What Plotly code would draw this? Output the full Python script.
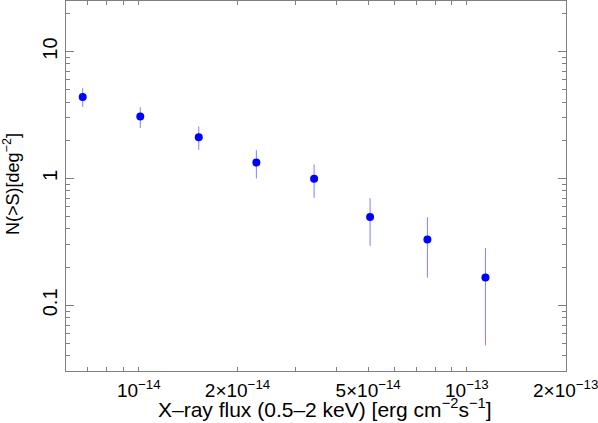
import plotly.graph_objects as go

# flux bins (erg cm^-2 s^-1) and cumulative counts N(>S) (deg^-2)
flux = [6.75e-15, 1.011e-14, 1.524e-14, 2.283e-14, 3.423e-14, 5.07e-14, 7.58e-14, 1.139e-13]
n_gt_s = [4.39, 3.08, 2.115, 1.336, 0.993, 0.498, 0.331, 0.166]
n_upper = [5.14, 3.64, 2.57, 1.67, 1.289, 0.70, 0.496, 0.2826]
n_lower = [3.66, 2.50, 1.68, 1.00, 0.704, 0.2946, 0.165, 0.0484]

x_ticks = [1e-14, 2e-14, 5e-14, 1e-13, 2e-13]
x_ticktext = ["10<sup>\u221214</sup>", "2\u00d710<sup>\u221214</sup>", "5\u00d710<sup>\u221214</sup>",
              "10<sup>\u221213</sup>", "2\u00d710<sup>\u221213</sup>"]
x_minor = [6e-15, 7e-15, 8e-15, 9e-15, 3e-14, 4e-14, 6e-14, 7e-14, 8e-14, 9e-14]
y_ticks = [0.1, 1, 10]
y_ticktext = ["0.1", "1", "10"]
y_minor = [0.04, 0.05, 0.06, 0.07, 0.08, 0.09,
           0.2, 0.3, 0.4, 0.5, 0.6, 0.7, 0.8, 0.9,
           2, 3, 4, 5, 6, 7, 8, 9, 20]

err_plus = [u - v for u, v in zip(n_upper, n_gt_s)]
err_minus = [v - l for v, l in zip(n_gt_s, n_lower)]

AX = "#808080"
FONT = "Liberation Sans, Arial, sans-serif"

fig = go.Figure(go.Scatter(
    x=flux, y=n_gt_s, mode="markers",
    marker=dict(color="#0000ff", size=8),
    error_y=dict(type="data", array=err_plus, arrayminus=err_minus,
                 color="rgba(0,0,255,0.5)", thickness=1, width=0),
    showlegend=False,
))

x_range = [-14.2216, -12.698]
y_range = [-1.517, 1.398]

fig.update_layout(
    width=598, height=423,
    margin=dict(l=66, r=32, t=1, b=52),
    paper_bgcolor="white", plot_bgcolor="white",
    font=dict(family=FONT, size=18, color="black"),
    xaxis=dict(
        type="log", range=x_range, showgrid=False, zeroline=False, automargin=False,
        showline=True, linecolor=AX, linewidth=1, mirror="allticks",
        tickmode="array", tickvals=x_ticks, ticktext=x_ticktext,
        tickfont=dict(family=FONT, size=19, color="black"), ticklabelstandoff=2,
        ticklabeloverflow="allow",
        ticks="inside", ticklen=4, tickcolor=AX, tickwidth=1,
        minor=dict(tickmode="array", tickvals=x_minor, ticks="inside",
                   ticklen=4, tickcolor=AX, tickwidth=1, showgrid=False),
    ),
    xaxis2=dict(
        type="log", range=x_range, overlaying="x", anchor="y", side="bottom",
        showgrid=False, zeroline=False, showline=False, mirror="allticks", automargin=False,
        tickmode="array", tickvals=[1e-14, 1e-13], showticklabels=False,
        ticks="inside", ticklen=8, tickcolor=AX, tickwidth=1,
    ),
    yaxis=dict(
        type="log", range=y_range, showgrid=False, zeroline=False, automargin=False,
        showline=True, linecolor=AX, linewidth=1, mirror="allticks",
        tickmode="array", tickvals=y_ticks, ticktext=y_ticktext, tickangle=-90,
        tickfont=dict(family=FONT, size=20, color="black"),
        ticks="inside", ticklen=8, tickcolor=AX, tickwidth=1,
        minor=dict(tickmode="array", tickvals=y_minor, ticks="inside",
                   ticklen=4, tickcolor=AX, tickwidth=1, showgrid=False),
    ),
    annotations=[
        dict(text="X\u2013ray flux (0.5\u20132 keV) [erg cm<sup>\u22122</sup>s<sup>\u22121</sup>]",
             xref="paper", yref="paper", x=0.517, y=0, xanchor="center", yanchor="bottom",
             yshift=-52, showarrow=False, font=dict(family=FONT, size=21, color="black")),
        dict(text="N(>S)[deg<sup>\u22122</sup>]", textangle=-90,
             xref="paper", yref="paper", x=0, y=0.5, xanchor="center", yanchor="middle",
             xshift=-55, yshift=2, showarrow=False, font=dict(family=FONT, size=18, color="black")),
    ],
)

fig.write_html("out.html", config={"displayModeBar": False},
               post_script="document.body.style.margin='0';")
